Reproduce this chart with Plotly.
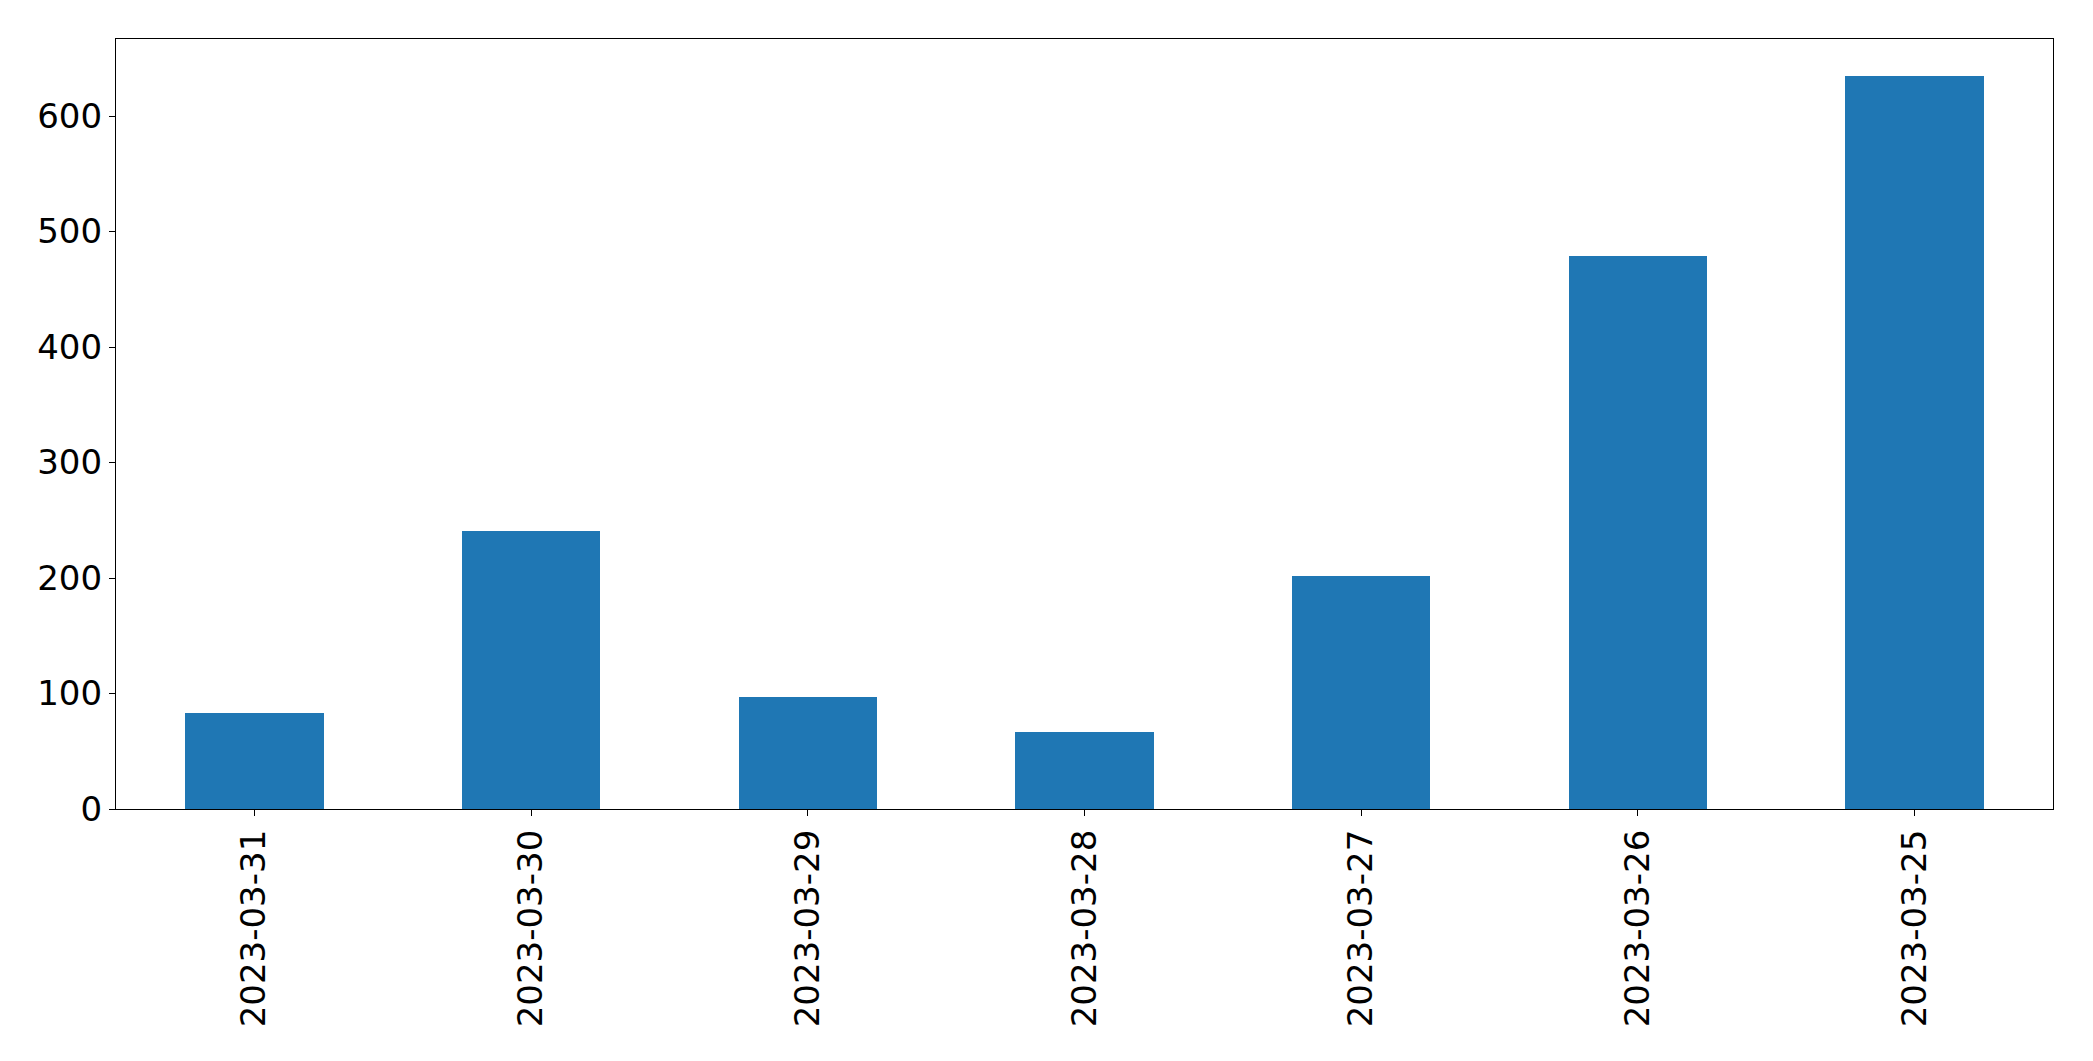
import plotly.graph_objects as go

dates = ["2023-03-31", "2023-03-30", "2023-03-29", "2023-03-28",
         "2023-03-27", "2023-03-26", "2023-03-25"]
counts = [83, 241, 97, 67, 202, 479, 635]
y_ticks = [0, 100, 200, 300, 400, 500, 600]

fig = go.Figure(
    go.Bar(x=dates, y=counts, width=0.5, marker=dict(color="#1f77b4", line=dict(width=0)))
)

font = dict(family="DejaVu Sans", size=34, color="black")
fig.update_layout(
    width=2093, height=1061,
    margin=dict(l=116, r=40, t=39, b=252, pad=0),
    plot_bgcolor="white", paper_bgcolor="white",
    showlegend=False,
    font=font,
    bargap=0,
)
fig.update_xaxes(
    type="category", range=[-0.5, len(dates) - 0.5],
    tickangle=-90, ticks="outside", ticklen=6, tickwidth=1.3, tickcolor="black",
    showline=True, linecolor="black", linewidth=1.3, mirror=True,
    showgrid=False, zeroline=False, tickfont=font,
)
fig.update_yaxes(
    range=[0, max(counts) * 1.05], tickvals=y_ticks,
    ticks="outside", ticklen=6, tickwidth=1.3, tickcolor="black",
    showline=True, linecolor="black", linewidth=1.3, mirror=True,
    showgrid=False, zeroline=False, tickfont=font,
)

fig.write_html("out.html")
